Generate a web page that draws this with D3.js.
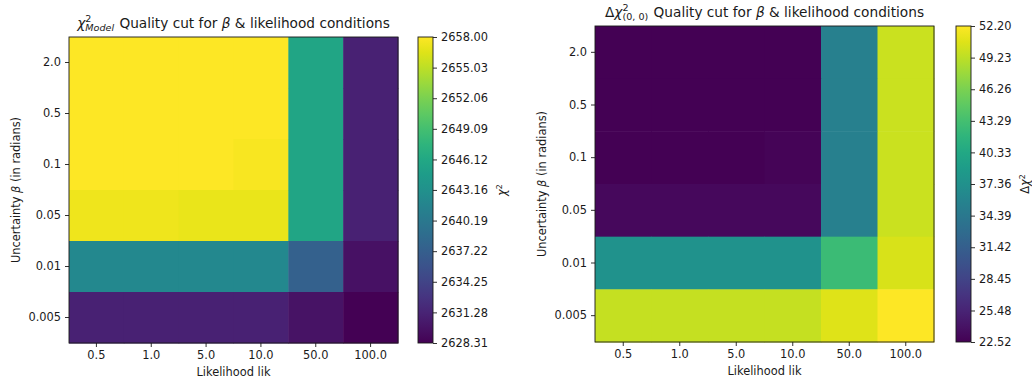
<!DOCTYPE html>
<html>
<head>
<meta charset="utf-8">
<script src="https://cdn.jsdelivr.net/npm/d3@7"></script>
<style>
  html, body { margin: 0; padding: 0; background: #fff; }
  svg { display: block; }
  text { font-family: "DejaVu Sans", sans-serif; fill: #1a1a1a; }
</style>
</head>
<body>
<svg id="chart" width="1032" height="383"></svg>
<script>
// ---------------- data ----------------
const likLabels = ["0.5", "1.0", "5.0", "10.0", "50.0", "100.0"];
const betaLabels = ["2.0", "0.5", "0.1", "0.05", "0.01", "0.005"];

// rows follow betaLabels (top to bottom), columns follow likLabels
const chi2Model = [
  [2658.00, 2658.00, 2658.00, 2658.00, 2645.8, 2631.0],
  [2658.00, 2658.00, 2658.00, 2658.00, 2645.8, 2631.0],
  [2658.00, 2658.00, 2658.00, 2657.7, 2645.8, 2631.0],
  [2657.2, 2657.2, 2657.0, 2657.0, 2645.8, 2631.0],
  [2642.2, 2642.2, 2642.2, 2642.2, 2637.4, 2629.6],
  [2631.0, 2631.0, 2631.0, 2631.0, 2629.8, 2628.31]
];
const deltaChi2 = [
  [22.52, 22.52, 22.52, 22.52, 35.3, 49.8],
  [22.52, 22.52, 22.52, 22.52, 35.3, 49.8],
  [22.52, 22.52, 22.52, 22.8, 35.3, 49.8],
  [23.1, 23.1, 23.2, 23.2, 35.3, 49.8],
  [37.6, 37.6, 37.6, 37.6, 42.8, 50.4],
  [49.6, 49.6, 49.6, 49.6, 50.8, 52.20]
];

const chi2Range = [2628.31, 2658.00];
const deltaRange = [22.52, 52.20];
const chi2Ticks = ["2628.31", "2631.28", "2634.25", "2637.22", "2640.19", "2643.16", "2646.12", "2649.09", "2652.06", "2655.03", "2658.00"];
const deltaTicks = ["22.52", "25.48", "28.45", "31.42", "34.39", "37.36", "40.33", "43.29", "46.26", "49.23", "52.20"];

// ---------------- drawing ----------------
const svg = d3.select("#chart");
const TICK_FS = 11.4, TITLE_FS = 13.7, TICK_LEN = 4, TICK_PAD = 4;
const INK = "#1a1a1a";

function mathTitle(g, cx, baseline, pieces) {
  const grp = g.append("g");
  let x = 0;
  pieces.forEach(p => {
    if (p.stack) {
      const s1 = grp.append("text").attr("x", x).attr("y", baseline - 6)
        .attr("font-size", TITLE_FS * 0.7).text(p.sup);
      const s2 = grp.append("text").attr("x", x).attr("y", baseline + 3)
        .attr("font-size", TITLE_FS * 0.7).attr("font-style", p.subItalic ? "italic" : "normal").text(p.sub);
      x += Math.max(s1.node().getComputedTextLength(), s2.node().getComputedTextLength()) + 1;
    } else {
      const t = grp.append("text").attr("x", x).attr("y", baseline)
        .attr("font-size", TITLE_FS).attr("font-style", p.italic ? "italic" : "normal")
        .attr("xml:space", "preserve").text(p.t);
      x += t.node().getComputedTextLength();
    }
  });
  grp.attr("transform", `translate(${cx - x / 2},0)`);
}

function heatmap(opts) {
  const { left, top, width, height, data, domain, cbLeft, cbTicks, titlePieces, titleY, cbLabel, cbLabelX } = opts;
  const g = svg.append("g");
  const x = d3.scaleBand().domain(likLabels).range([left, left + width]).padding(0);
  const y = d3.scaleBand().domain(betaLabels).range([top, top + height]).padding(0);
  const color = d3.scaleSequential(d3.interpolateViridis).domain(domain);

  const cells = [];
  data.forEach((row, i) => row.forEach((v, j) => cells.push({ b: betaLabels[i], l: likLabels[j], v })));
  g.selectAll("rect.cell").data(cells).join("rect")
    .attr("class", "cell")
    .attr("x", d => x(d.l)).attr("y", d => y(d.b))
    .attr("width", x.bandwidth() + 0.5).attr("height", y.bandwidth() + 0.5)
    .attr("fill", d => color(d.v));

  g.append("rect").attr("x", left).attr("y", top).attr("width", width).attr("height", height)
    .attr("fill", "none").attr("stroke", INK).attr("stroke-width", 0.9);

  const xAxis = d3.axisBottom(x).tickSize(TICK_LEN).tickPadding(TICK_PAD);
  const gx = g.append("g").attr("transform", `translate(0,${top + height})`).call(xAxis);
  const yAxis = d3.axisLeft(y).tickSize(TICK_LEN).tickPadding(TICK_PAD);
  const gy = g.append("g").attr("transform", `translate(${left},0)`).call(yAxis);
  [gx, gy].forEach(a => {
    a.select(".domain").remove();
    a.selectAll(".tick line").attr("stroke", INK).attr("stroke-width", 0.9);
    a.selectAll(".tick text").attr("font-size", TICK_FS).attr("font-family", "DejaVu Sans").attr("fill", INK);
  });

  g.append("text").attr("x", left + width / 2).attr("y", top + height + 33)
    .attr("text-anchor", "middle").attr("font-size", TICK_FS).text("Likelihood lik");
  const yl = g.append("text")
    .attr("transform", `translate(${left - 49},${top + height / 2}) rotate(-90)`)
    .attr("text-anchor", "middle").attr("font-size", TICK_FS);
  yl.append("tspan").text("Uncertainty ");
  yl.append("tspan").attr("font-style", "italic").text("β");
  yl.append("tspan").text(" (in radians)");

  mathTitle(g, left + width / 2, titleY, titlePieces);

  const cbW = 15;
  const cy = d3.scaleLinear().domain(domain).range([top + height, top]);
  const gradId = "grad" + Math.round(left);
  const grad = svg.append("defs").append("linearGradient").attr("id", gradId)
    .attr("x1", 0).attr("y1", 1).attr("x2", 0).attr("y2", 0);
  d3.range(0, 1.0001, 0.05).forEach(t => {
    grad.append("stop").attr("offset", t).attr("stop-color", d3.interpolateViridis(t));
  });
  g.append("rect").attr("x", cbLeft).attr("y", top).attr("width", cbW).attr("height", height)
    .attr("fill", `url(#${gradId})`).attr("stroke", INK).attr("stroke-width", 0.9);
  const tickVals = cbTicks.map(Number);
  const cbAxis = d3.axisRight(cy).tickValues(tickVals).tickFormat((d, i) => cbTicks[i])
    .tickSize(TICK_LEN).tickPadding(TICK_PAD);
  const gc = g.append("g").attr("transform", `translate(${cbLeft + cbW},0)`).call(cbAxis);
  gc.select(".domain").remove();
  gc.selectAll(".tick line").attr("stroke", INK).attr("stroke-width", 0.9);
  gc.selectAll(".tick text").attr("font-size", TICK_FS).attr("font-family", "DejaVu Sans").attr("fill", INK);

  const cl = g.append("text")
    .attr("transform", `translate(${cbLabelX},${top + height / 2}) rotate(-90)`)
    .attr("text-anchor", "middle").attr("font-size", TICK_FS);
  cbLabel.forEach(p => {
    const ts = cl.append("tspan").attr("font-style", p.italic ? "italic" : "normal").text(p.t);
    if (p.sup) ts.attr("baseline-shift", "super").attr("font-size", TICK_FS * 0.7);
  });
}

heatmap({
  left: 69, top: 37, width: 329, height: 306,
  data: chi2Model, domain: chi2Range, cbLeft: 418, cbTicks: chi2Ticks, titleY: 28, cbLabelX: 506,
  titlePieces: [{ t: "χ", italic: true }, { stack: true, sup: "2", sub: "Model", subItalic: true }, { t: " Quality cut for " }, { t: "β", italic: true }, { t: " & likelihood conditions" }],
  cbLabel: [{ t: "χ", italic: true }, { t: "2", sup: true }]
});

heatmap({
  left: 595, top: 26, width: 339, height: 316,
  data: deltaChi2, domain: deltaRange, cbLeft: 956, cbTicks: deltaTicks, titleY: 17, cbLabelX: 1029,
  titlePieces: [{ t: "Δ" }, { t: "χ", italic: true }, { stack: true, sup: "2", sub: "(0, 0)", subItalic: false }, { t: " Quality cut for " }, { t: "β", italic: true }, { t: " & likelihood conditions" }],
  cbLabel: [{ t: "Δ" }, { t: "χ", italic: true }, { t: "2", sup: true }]
});
</script>
</body>
</html>
